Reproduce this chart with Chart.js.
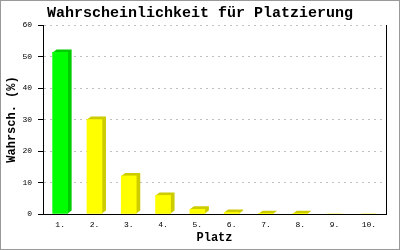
<!DOCTYPE html>
<html>
<head>
<meta charset="utf-8">
<script src="https://cdn.jsdelivr.net/npm/chart.js@4.4.1/dist/chart.umd.min.js"></script>
<style>
  html, body { margin: 0; padding: 0; background: #fff; }
  #wrap { width: 400px; height: 250px; }
</style>
</head>
<body>
<div id="wrap"><canvas id="chart"></canvas></div>
<script>
// values
const places = ['1.', '2.', '3.', '4.', '5.', '6.', '7.', '8.', '9.', '10.'];
const probabilities = [51.3, 30.0, 12.1, 5.9, 1.5, 0.5, 0.1, 0.1, 0, 0];
const yMin = 0, yMax = 60, yStep = 10;

const mono = "'Liberation Mono', 'DejaVu Sans Mono', monospace";

// 3D look: darker side + top face behind every bar
const box3d = {
    id: 'box3d',
    beforeDatasetsDraw(chart) {
        const ctx = chart.ctx;
        const meta = chart.getDatasetMeta(0);
        meta.data.forEach((bar, i) => {
            if (!probabilities[i]) return;
            const p = bar.getProps(['x', 'y', 'base', 'width'], true);
            const l = p.x - p.width / 2, r = p.x + p.width / 2;
            const dx = 4, dy = 3;
            ctx.save();
            ctx.fillStyle = i === 0 ? '#00cc00' : '#cccc00';
            ctx.beginPath();
            ctx.moveTo(l, p.y);
            ctx.lineTo(l + dx, p.y - dy);
            ctx.lineTo(r + dx, p.y - dy);
            ctx.lineTo(r + dx, p.base - dy);
            ctx.lineTo(r, p.base);
            ctx.closePath();
            ctx.fill();
            ctx.restore();
        });
    }
};

// white background and grey outer frame
const frame = {
    id: 'frame',
    beforeDraw(chart) {
        const ctx = chart.ctx;
        ctx.save();
        ctx.fillStyle = '#fff';
        ctx.fillRect(0, 0, chart.width, chart.height);
        ctx.restore();
    },
    afterDraw(chart) {
        const ctx = chart.ctx;
        ctx.save();
        ctx.strokeStyle = '#999';
        ctx.lineWidth = 1;
        ctx.strokeRect(0.5, 0.5, chart.width - 1, chart.height - 1);
        ctx.restore();
    }
};

new Chart(document.getElementById('chart'), {
    type: 'bar',
    data: {
        labels: places,
        datasets: [{
            data: probabilities,
            backgroundColor: probabilities.map((v, i) => i === 0 ? '#00ff00' : '#ffff00'),
            borderWidth: 0,
            barThickness: 15
        }]
    },
    options: {
        responsive: true,
        maintainAspectRatio: false,
        animation: false,
        layout: { padding: 0 },
        plugins: {
            legend: { display: false },
            tooltip: { enabled: false },
            title: {
                display: true,
                text: 'Wahrscheinlichkeit für Platzierung',
                color: '#000',
                font: { family: mono, size: 15, weight: 'bold' },
                padding: { top: 4, bottom: 3 }
            }
        },
        scales: {
            x: {
                grid: { display: false, drawTicks: false },
                border: { display: true, color: '#000', width: 1 },
                ticks: { color: '#000', font: { family: mono, size: 8 }, padding: 6, maxRotation: 0 },
                title: {
                    display: true, text: 'Platz', color: '#000',
                    font: { family: mono, size: 12, weight: 'bold' },
                    padding: { top: 0, bottom: 5 }
                },
                afterFit: s => { s.height = 36; }
            },
            y: {
                min: yMin, max: yMax,
                grid: {
                    color: c => c.tick && c.tick.value === 0 ? 'rgba(0,0,0,0)' : '#c0c0c0',
                    tickColor: '#000',
                    tickBorderDash: [1, 0],
                    tickLength: 5
                },
                border: { display: true, color: '#000', width: 1, dash: [2, 4] },
                ticks: { stepSize: yStep, color: '#000', font: { family: mono, size: 8 }, padding: 6 },
                title: {
                    display: true, text: 'Wahrsch. (%)', color: '#000',
                    font: { family: mono, size: 12, weight: 'bold' },
                    padding: { top: 5, bottom: 0 }
                },
                afterFit: s => { s.width = 43; }
            },
            y2: {
                position: 'right',
                min: yMin, max: yMax,
                grid: { display: false, drawTicks: false },
                border: { display: true, color: '#000', width: 1 },
                ticks: { display: false },
                afterFit: s => { s.width = 14; }
            }
        }
    },
    plugins: [frame, box3d]
});
</script>
</body>
</html>
